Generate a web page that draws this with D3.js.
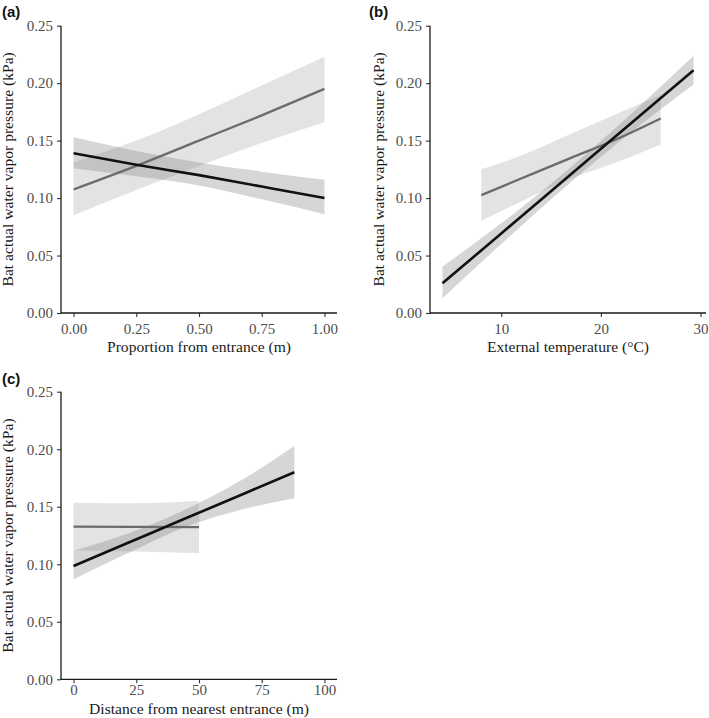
<!DOCTYPE html>
<html><head><meta charset="utf-8">
<script src="https://cdn.jsdelivr.net/npm/d3@7"></script>
<style>body{margin:0;background:#fff}svg{display:block}</style>
</head><body>
<svg id="chart" width="709" height="718"></svg>
<script>
// ---------- data ----------
const yTicks = [0, 0.05, 0.10, 0.15, 0.20, 0.25];
const yTitle = "Bat actual water vapor pressure (kPa)";

// Panel (a)
const aTicks = [0, 0.25, 0.5, 0.75, 1];
const aBlackX = [0, 0.25, 0.5, 0.75, 1];
const aBlackFit = [0.139, 0.129, 0.120, 0.110, 0.100];
const aBlackLo  = [0.126, 0.119, 0.111, 0.099, 0.086];
const aBlackHi  = [0.153, 0.141, 0.131, 0.123, 0.116];
const aGrayX = [0, 0.25, 0.5, 0.75, 1];
const aGrayFit = [0.1075, 0.128, 0.150, 0.172, 0.195];
const aGrayLo  = [0.085, 0.107, 0.128, 0.148, 0.166];
const aGrayHi  = [0.131, 0.150, 0.173, 0.198, 0.223];

// Panel (b)
const bTicks = [10, 20, 30];
const bBlackX = [4.1, 10, 17, 23, 29.3];
const bBlackFit = [0.0258, 0.0692, 0.1207, 0.1649, 0.2113];
const bBlackLo  = [0.0128, 0.060, 0.114, 0.157, 0.1988];
const bBlackHi  = [0.0403, 0.078, 0.127, 0.173, 0.2238];
const bGrayX = [8, 12, 17, 21.5, 26];
const bGrayFit = [0.1026, 0.117, 0.135, 0.151, 0.1693];
const bGrayLo  = [0.0803, 0.097, 0.117, 0.131, 0.1467];
const bGrayHi  = [0.125, 0.137, 0.156, 0.173, 0.190];

// Panel (c)
const cTicks = [0, 25, 50, 75, 100];
const cBlackX = [0, 22, 44, 66, 88];
const cBlackFit = [0.0985, 0.1189, 0.1393, 0.1596, 0.180];
const cBlackLo  = [0.087, 0.110, 0.132, 0.147, 0.1574];
const cBlackHi  = [0.1118, 0.127, 0.147, 0.172, 0.2029];
const cGrayX = [0, 25, 50];
const cGrayFit = [0.1327, 0.1325, 0.1322];
const cGrayLo  = [0.112, 0.111, 0.1095];
const cGrayHi  = [0.1535, 0.153, 0.155];

// ---------- layout ----------
const panels = [
  {label:"(a)", lx:2, ly:17, left:61, right:337, top:25.7, bottom:313, xdom:[-0.05,1.05], ticks:aTicks, fmt:d3.format(".2f"),
   xTitle:"Proportion from entrance (m)", xTitleY:352, yTitleX:13, pad:6,
   black:{x:aBlackX, f:aBlackFit, lo:aBlackLo, hi:aBlackHi}, gray:{x:aGrayX, f:aGrayFit, lo:aGrayLo, hi:aGrayHi}},
  {label:"(b)", lx:369, ly:17, left:430, right:706, top:25.7, bottom:313, xdom:[2.85,30.55], ticks:bTicks, fmt:d3.format("d"),
   xTitle:"External temperature (\u00B0C)", xTitleY:352, yTitleX:384, pad:6,
   black:{x:bBlackX, f:bBlackFit, lo:bBlackLo, hi:bBlackHi}, gray:{x:bGrayX, f:bGrayFit, lo:bGrayLo, hi:bGrayHi}},
  {label:"(c)", lx:2, ly:384, left:61, right:337, top:391.7, bottom:679.3, xdom:[-5,105], ticks:cTicks, fmt:d3.format("d"),
   xTitle:"Distance from nearest entrance (m)", xTitleY:714, yTitleX:13, pad:1.5,
   black:{x:cBlackX, f:cBlackFit, lo:cBlackLo, hi:cBlackHi}, gray:{x:cGrayX, f:cGrayFit, lo:cGrayLo, hi:cGrayHi}}
];

const svg = d3.select("#chart");
const serif = "'Liberation Serif','Times New Roman',serif";

panels.forEach(p => {
  const g = svg.append("g");
  const x = d3.scaleLinear().domain(p.xdom).range([p.left, p.right]);
  const y = d3.scaleLinear().domain([0, 0.25]).range([p.bottom, p.top]);

  const rib = s => s.x.map((v,i)=>({x:v, lo:s.lo[i], hi:s.hi[i], f:s.f[i]}));
  const area = d3.area().x(d=>x(d.x)).y0(d=>y(d.lo)).y1(d=>y(d.hi)).curve(d3.curveMonotoneX);
  const line = d3.line().x(d=>x(d.x)).y(d=>y(d.f)).curve(d3.curveMonotoneX);

  const gr = rib(p.gray), bl = rib(p.black);
  g.append("path").datum(gr).attr("d", area).attr("fill", "#7f7f7f").attr("fill-opacity", 0.22);
  g.append("path").datum(bl).attr("d", area).attr("fill", "#7f7f7f").attr("fill-opacity", 0.32);
  g.append("path").datum(gr).attr("d", line).attr("fill","none").attr("stroke","#6b6b6b").attr("stroke-width",2.3);
  g.append("path").datum(bl).attr("d", line).attr("fill","none").attr("stroke","#111").attr("stroke-width",2.6);

  // axes
  const xa = g.append("g").attr("transform", `translate(0,${p.bottom})`)
    .call(d3.axisBottom(x).tickValues(p.ticks).tickFormat(p.fmt).tickSize(4).tickPadding(p.pad));
  const ya = g.append("g").attr("transform", `translate(${p.left},0)`)
    .call(d3.axisLeft(y).tickValues(yTicks).tickFormat(d3.format(".2f")).tickSize(4).tickPadding(4));
  [xa, ya].forEach(a => {
    a.select(".domain").remove();
    a.selectAll(".tick line").attr("stroke","#333").attr("stroke-width",1.1);
    a.selectAll(".tick text").attr("fill","#4d4d4d").style("font-family", serif).style("font-size","15px");
  });
  g.append("line").attr("x1",p.left).attr("x2",p.right).attr("y1",p.bottom).attr("y2",p.bottom)
    .attr("stroke","#1a1a1a").attr("stroke-width",1.3);
  g.append("line").attr("x1",p.left).attr("x2",p.left).attr("y1",p.top).attr("y2",p.bottom+0.65)
    .attr("stroke","#1a1a1a").attr("stroke-width",1.3);

  // titles
  g.append("text").attr("x", (p.left+p.right)/2).attr("y", p.xTitleY).attr("text-anchor","middle")
    .style("font-family", serif).style("font-size","15.6px").attr("fill","#1a1a1a").text(p.xTitle);
  g.append("text").attr("transform", `translate(${p.yTitleX},${(p.top+p.bottom)/2}) rotate(-90)`)
    .attr("text-anchor","middle").style("font-family", serif).style("font-size","15.6px").attr("fill","#1a1a1a").text(yTitle);
  g.append("text").attr("x", p.lx).attr("y", p.ly).style("font-family","'Liberation Sans',Arial,sans-serif")
    .style("font-weight","bold").style("font-size","15px").attr("fill","#111").text(p.label);
});
</script>
</body></html>
